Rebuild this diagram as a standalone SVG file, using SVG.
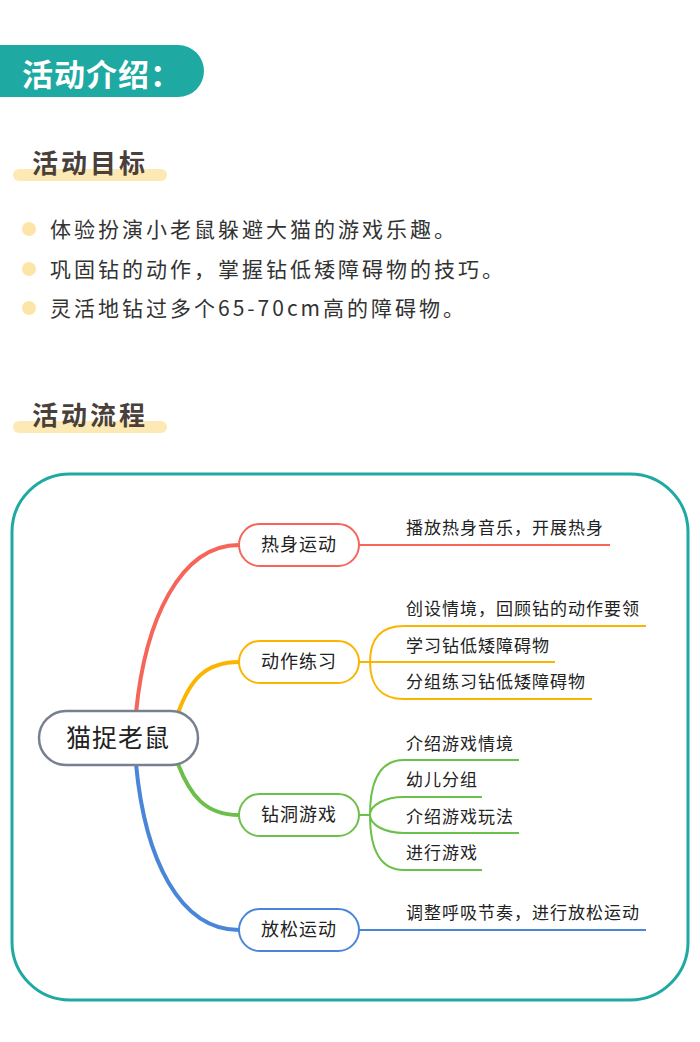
<svg xmlns="http://www.w3.org/2000/svg" width="700" height="1042" viewBox="0 0 700 1042">
<style>
text{font-family:"Noto Sans CJK SC","Noto Sans",sans-serif}
.h{font-size:26px;font-weight:bold;fill:#4a403a;letter-spacing:3px}
.b{font-size:21px;fill:#333;letter-spacing:3px}
.n{font-size:18px;fill:#222;text-anchor:middle;letter-spacing:1px}
.r{font-size:25px;fill:#222;text-anchor:middle;letter-spacing:1px}
.l{font-size:17px;fill:#222;letter-spacing:1px}
.bar{fill:#fde9b3}
.dot{fill:#fde5a8}
.c{fill:none}
</style>
<rect width="700" height="1042" fill="#fff"/>
<g id="header"><path d="M0 45H178a26 26 0 0 1 0 52H0Z" fill="#1ea9a2"/>
<text x="22" y="86" font-size="31" font-weight="bold" fill="#fff" letter-spacing="1">活动介绍：</text></g>
<g id="goal-title"><rect class="bar" x="13" y="169" width="154" height="12" rx="6"/><text class="h" x="32" y="173">活动目标</text></g>
<g id="goals">
<circle class="dot" cx="29" cy="229" r="7"/><text class="b" x="50" y="237">体验扮演小老鼠躲避大猫的游戏乐趣。</text>
<circle class="dot" cx="29" cy="269" r="7"/><text class="b" x="50" y="277">巩固钻的动作，掌握钻低矮障碍物的技巧。</text>
<circle class="dot" cx="29" cy="308" r="7"/><text class="b" x="50" y="316">灵活地钻过多个65-70cm高的障碍物。</text>
</g>
<g id="flow-title"><rect class="bar" x="13" y="421" width="154" height="12" rx="6"/><text class="h" x="32" y="425">活动流程</text></g>
<rect id="frame" x="12" y="474" width="676" height="526" rx="58" fill="none" stroke="#1ea9a2" stroke-width="3"/>
<g id="connectors" class="c">
<path d="M136 713C145 620 180 545 239 545" stroke="#f6645a" stroke-width="4"/>
<path d="M178 713C190 680 205 662 239 662" stroke="#fbb400" stroke-width="4"/>
<path d="M178 764C190 795 205 815 239 815" stroke="#6cc04a" stroke-width="4"/>
<path d="M136 764C145 860 180 930 239 930" stroke="#4a86d8" stroke-width="4"/>
<g stroke="#f6645a" stroke-width="2"><path d="M359 545H610"/></g>
<g stroke="#fbb400" stroke-width="2"><path d="M359 662H370M370 662C370 640 380 626 404 626H646M370 662H555M370 662C370 684 380 699 404 699H592"/></g>
<g stroke="#6cc04a" stroke-width="2"><path d="M359 815H370M370 815C370 780 380 760 404 760H519M370 815C370 805 385 797 404 797H482M370 815C370 825 385 833 404 833H519M370 815C370 850 380 870 404 870H482"/></g>
<g stroke="#4a86d8" stroke-width="2"><path d="M359 930H646"/></g>
</g>
<g id="root"><rect x="39" y="711" width="159" height="54" rx="27" fill="#fff" stroke="#77808f" stroke-width="2.5"/><text class="r" x="118" y="747">猫捉老鼠</text></g>
<g id="n1"><rect x="239" y="524" width="120" height="42" rx="21" fill="#fff" stroke="#f6645a" stroke-width="2"/><text class="n" x="299" y="551">热身运动</text></g>
<g id="n2"><rect x="239" y="641" width="120" height="42" rx="21" fill="#fff" stroke="#fbb400" stroke-width="2"/><text class="n" x="299" y="668">动作练习</text></g>
<g id="n3"><rect x="239" y="794" width="120" height="42" rx="21" fill="#fff" stroke="#6cc04a" stroke-width="2"/><text class="n" x="299" y="821">钻洞游戏</text></g>
<g id="n4"><rect x="239" y="909" width="120" height="42" rx="21" fill="#fff" stroke="#4a86d8" stroke-width="2"/><text class="n" x="299" y="936">放松运动</text></g>
<g id="leaves">
<text class="l" x="406" y="534">播放热身音乐，开展热身</text>
<text class="l" x="406" y="615">创设情境，回顾钻的动作要领</text>
<text class="l" x="406" y="652">学习钻低矮障碍物</text>
<text class="l" x="406" y="688">分组练习钻低矮障碍物</text>
<text class="l" x="406" y="750">介绍游戏情境</text>
<text class="l" x="406" y="786">幼儿分组</text>
<text class="l" x="406" y="823">介绍游戏玩法</text>
<text class="l" x="406" y="859">进行游戏</text>
<text class="l" x="406" y="919">调整呼吸节奏，进行放松运动</text>
</g>
</svg>
